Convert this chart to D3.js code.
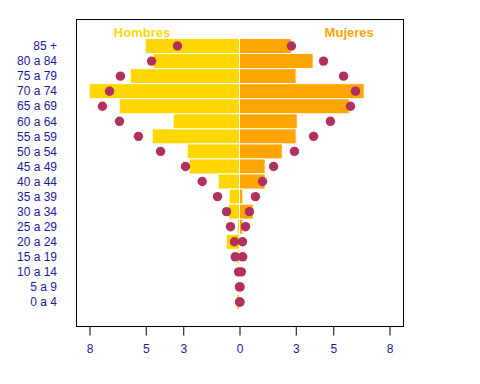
<!DOCTYPE html>
<html>
<head>
<meta charset="utf-8">
<script src="https://cdn.jsdelivr.net/npm/d3@7"></script>
<style>
  body { margin: 0; background: #fff; }
  text { font-family: Arial, "Liberation Sans", sans-serif; }
</style>
</head>
<body>
<svg></svg>
<script>
var grupos = ["85 +", "80 a 84", "75 a 79", "70 a 74", "65 a 69", "60 a 64", "55 a 59", "50 a 54", "45 a 49",
              "40 a 44", "35 a 39", "30 a 34", "25 a 29", "20 a 24", "15 a 19", "10 a 14", "5 a 9", "0 a 4"];
var hombres = [5.03, 4.60, 5.83, 8.02, 6.42, 3.54, 4.66, 2.79, 2.68, 1.14, 0.55, 0.60, 0.12, 0.71, 0.12, 0, 0, 0.17];
var mujeres = [2.76, 3.93, 3.02, 6.65, 5.85, 3.08, 3.02, 2.28, 1.37, 1.37, 0.18, 0.73, 0.18, 0, 0, 0, 0, 0];
var hombresRef = [3.31, 4.69, 6.35, 6.93, 7.31, 6.40, 5.39, 4.21, 2.88, 1.99, 1.17, 0.69, 0.48, 0.27, 0.23, 0.05, 0.0, 0.0];
var mujeresRef = [2.77, 4.48, 5.55, 6.19, 5.92, 4.85, 3.95, 2.93, 1.82, 1.23, 0.85, 0.53, 0.32, 0.16, 0.17, 0.10, 0.03, 0.03];
var ticks = [-8, -5, -3, 0, 3, 5, 8];

var width = 480;
var height = 384;

var svg = d3.select("svg")
              .attr("width", width)
              .attr("height", height);

var x = d3.scaleLinear().domain([-8.72, 8.72]).range([76, 403]);
var y = d3.scaleBand().domain(grupos).range([38.5, 309.5]).padding(0);

// bars
svg.selectAll(".hom")
    .data(grupos)
    .enter()
    .append("rect")
      .attr("class", "hom")
      .attr("x", (d, i) => x(-hombres[i]))
      .attr("y", d => y(d))
      .attr("width", (d, i) => x(0) - x(-hombres[i]))
      .attr("height", y.bandwidth())
      .attr("fill", "#FFD700")
      .attr("stroke", "#fff")
      .attr("stroke-width", 1);

svg.selectAll(".muj")
    .data(grupos)
    .enter()
    .append("rect")
      .attr("class", "muj")
      .attr("x", x(0))
      .attr("y", d => y(d))
      .attr("width", (d, i) => x(mujeres[i]) - x(0))
      .attr("height", y.bandwidth())
      .attr("fill", "#FFA500")
      .attr("stroke", "#fff")
      .attr("stroke-width", 1);

// reference points
svg.selectAll(".phom")
    .data(grupos)
    .enter()
    .append("circle")
      .attr("cx", (d, i) => x(-hombresRef[i]))
      .attr("cy", d => y(d) + y.bandwidth() / 2)
      .attr("r", 4.7)
      .attr("fill", "#B03060");

svg.selectAll(".pmuj")
    .data(grupos)
    .enter()
    .append("circle")
      .attr("cx", (d, i) => x(mujeresRef[i]))
      .attr("cy", d => y(d) + y.bandwidth() / 2)
      .attr("r", 4.7)
      .attr("fill", "#B03060");

// box
svg.append("rect")
    .attr("x", 76.5).attr("y", 19.5)
    .attr("width", 403 - 76).attr("height", 326 - 19)
    .attr("fill", "none")
    .attr("stroke", "#000")
    .attr("stroke-width", 1);

// x axis
var axis = svg.append("g")
    .attr("transform", "translate(0,326.5)")
    .call(d3.axisBottom(x).tickValues(ticks).tickSize(9).tickPadding(9)
            .tickFormat(d => Math.abs(d)));
axis.select(".domain").remove();
axis.selectAll("line").attr("stroke", "#000");
axis.selectAll("text")
    .attr("fill", "#1a1aa0")
    .style("font-size", "12px")
    .style("font-family", "Arial, 'Liberation Sans', sans-serif");

// y labels
svg.selectAll(".lab")
    .data(grupos)
    .enter()
    .append("text")
      .attr("x", 57)
      .attr("y", d => y(d) + y.bandwidth() / 2)
      .attr("dy", "0.35em")
      .attr("text-anchor", "end")
      .attr("fill", "#1a1aa0")
      .style("font-size", "12px")
      .text(d => d);

// titles
svg.append("text")
    .attr("x", x(-5.2)).attr("y", 37)
    .attr("text-anchor", "middle")
    .attr("fill", "#FFD700")
    .style("font-size", "13px").style("font-weight", "bold")
    .text("Hombres");
svg.append("text")
    .attr("x", x(5.85)).attr("y", 37)
    .attr("text-anchor", "middle")
    .attr("fill", "#FFA500")
    .style("font-size", "13px").style("font-weight", "bold")
    .text("Mujeres");
</script>
</body>
</html>
